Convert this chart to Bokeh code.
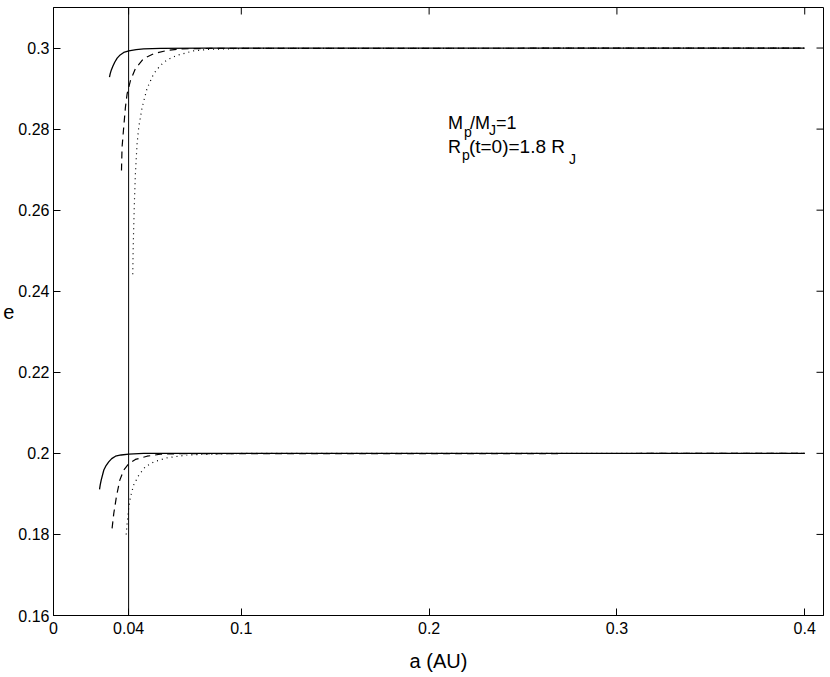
import numpy as np
from bokeh.plotting import figure
from bokeh.models import Span, Label, FixedTicker, Range1d
from bokeh.embed import file_html
from bokeh.resources import INLINE

# ---------------- data ----------------
x_ticks = [0, 0.04, 0.1, 0.2, 0.3, 0.4]
x_tick_labels = ["0", "0.04", "0.1", "0.2", "0.3", "0.4"]
y_ticks = [0.16, 0.18, 0.2, 0.22, 0.24, 0.26, 0.28, 0.3]
y_tick_labels = ["0.16", "0.18", "0.2", "0.22", "0.24", "0.26", "0.28", "0.3"]
roche_a = 0.04

# tracks starting at e = 0.3
a_hi_solid = [0.0298, 0.0302, 0.0308, 0.0316, 0.0326, 0.0339, 0.0355, 0.0374, 0.0401, 0.044, 0.048, 0.057, 0.08, 0.4]
e_hi_solid = [0.2928, 0.2937, 0.2946, 0.2955, 0.2965, 0.2975, 0.2983, 0.2989, 0.2993, 0.2996, 0.2998, 0.2999, 0.3, 0.3]
a_hi_dash = [0.0362, 0.0365, 0.0374, 0.0383, 0.0392, 0.041, 0.0436, 0.048, 0.0534, 0.0605, 0.0676, 0.0835, 0.4]
e_hi_dash = [0.2698, 0.2755, 0.2805, 0.2854, 0.2887, 0.2920, 0.2949, 0.2974, 0.2986, 0.2994, 0.2998, 0.2999, 0.3]
a_hi_dot = [0.0422, 0.0424, 0.0427, 0.0431, 0.0436, 0.0445, 0.0454, 0.0472, 0.0498, 0.0534, 0.0569, 0.0605, 0.0658, 0.0746, 0.0835, 0.1012, 0.4]
e_hi_dot = [0.2442, 0.2500, 0.2557, 0.2623, 0.2689, 0.2764, 0.2805, 0.2854, 0.2900, 0.2937, 0.2957, 0.2971, 0.2982, 0.2993, 0.2997, 0.2999, 0.3]

# tracks starting at e = 0.2
a_lo_solid = [0.0245, 0.0249, 0.0254, 0.0268, 0.0280, 0.0294, 0.0310, 0.0330, 0.0360, 0.0401, 0.048, 0.4]
e_lo_solid = [0.1911, 0.1923, 0.1934, 0.1959, 0.1970, 0.1979, 0.1987, 0.1993, 0.1996, 0.1998, 0.2, 0.2]
a_lo_dash = [0.0312, 0.0321, 0.0335, 0.0353, 0.0374, 0.0401, 0.0436, 0.0498, 0.0569, 0.0658, 0.4]
e_lo_dash = [0.1815, 0.1852, 0.1893, 0.1934, 0.1959, 0.1975, 0.1985, 0.1993, 0.1998, 0.1999, 0.2]
a_lo_dot = [0.0387, 0.0392, 0.0401, 0.041, 0.0427, 0.0454, 0.0489, 0.0534, 0.0605, 0.0711, 0.0835, 0.1012, 0.4]
e_lo_dot = [0.1800, 0.1827, 0.1868, 0.1893, 0.1922, 0.1946, 0.1967, 0.1979, 0.1989, 0.1996, 0.1998, 0.2, 0.2]

X_MIN, X_MAX = 0, 0.41
Y_MIN, Y_MAX = 0.16, 0.31
FONT = "Liberation Sans"

p = figure(frame_width=770, frame_height=608, output_backend="svg", toolbar_location=None,
           x_range=Range1d(X_MIN, X_MAX), y_range=Range1d(Y_MIN, Y_MAX),
           min_border_left=0, min_border_right=6, min_border_top=7, min_border_bottom=0,
           background_fill_color="white", border_fill_color="white")
p.xgrid.visible = False
p.ygrid.visible = False
p.outline_line_color = "black"
p.outline_line_width = 1

def style_axis(ax, ticks, labels):
    ax.ticker = FixedTicker(ticks=ticks)
    ax.major_label_overrides = {t: l for t, l in zip(ticks, labels)}
    ax.minor_tick_line_color = None
    ax.major_tick_in = 7
    ax.major_tick_out = 0
    ax.major_tick_line_color = "black"
    ax.axis_line_color = "black"
    ax.major_label_text_font = FONT
    ax.major_label_text_color = "black"
    ax.major_label_text_font_size = "16px"

xa = p.xaxis[0]
style_axis(xa, x_ticks, x_tick_labels)
xa.major_label_standoff = 6
xa.axis_label = "a (AU)"
xa.axis_label_text_font = FONT
xa.axis_label_text_font_style = "normal"
xa.axis_label_text_font_size = "20px"
xa.axis_label_text_color = "black"
xa.axis_label_standoff = 13

ya = p.yaxis[0]
style_axis(ya, y_ticks, y_tick_labels)
ya.major_label_standoff = 4
ya.axis_label = "e"
ya.axis_label_orientation = "horizontal"
ya.axis_label_text_font = FONT
ya.axis_label_text_font_style = "normal"
ya.axis_label_text_font_size = "20px"
ya.axis_label_text_color = "black"
ya.axis_label_standoff = 1

# mirrored inward ticks on top and right edges (half of each dash is clipped by the frame)
p.scatter(x_ticks, [Y_MAX] * len(x_ticks), marker="dash", angle=np.pi / 2, size=14,
          line_color="black", line_width=1)
p.scatter([X_MAX] * len(y_ticks), y_ticks, marker="dash", angle=0, size=14,
          line_color="black", line_width=1)

p.add_layout(Span(location=roche_a, dimension="height", line_color="black", line_width=1))

for a, e in [(a_hi_solid, e_hi_solid), (a_lo_solid, e_lo_solid)]:
    p.line(a, e, line_color="black", line_width=1.3)
for a, e in [(a_hi_dash, e_hi_dash), (a_lo_dash, e_lo_dash)]:
    p.line(a, e, line_color="black", line_width=1.2, line_dash="7 5")
for a, e in [(a_hi_dot, e_hi_dot), (a_lo_dot, e_lo_dot)]:
    p.line(a, e, line_color="black", line_width=1.2, line_dash="1 4")

# annotation
ann_a = 0.21
line1_e = 0.2816
line2_e = 0.2757
pieces = [
    ("M", line1_e, 0, 0, "18px"),
    ("p", line1_e, 16, -9, "14px"),
    ("/M", line1_e, 22, 0, "18px"),
    ("J", line1_e, 41, -7, "14px"),
    ("=1", line1_e, 48, 0, "18px"),
    ("R", line2_e, 0, 0, "18px"),
    ("p", line2_e, 14, -8, "14px"),
    ("(t=0)=1.8 R", line2_e, 21, 0, "19px"),
    ("J", line2_e, 121, -12, "14px"),
]
for txt, ey, dx, dy, fs in pieces:
    p.add_layout(Label(x=ann_a, y=ey, text=txt, x_offset=dx, y_offset=dy,
                       text_font=FONT, text_font_size=fs, text_color="black",
                       text_baseline="alphabetic", text_align="left"))

open("out.html", "w").write(file_html(p, INLINE))
